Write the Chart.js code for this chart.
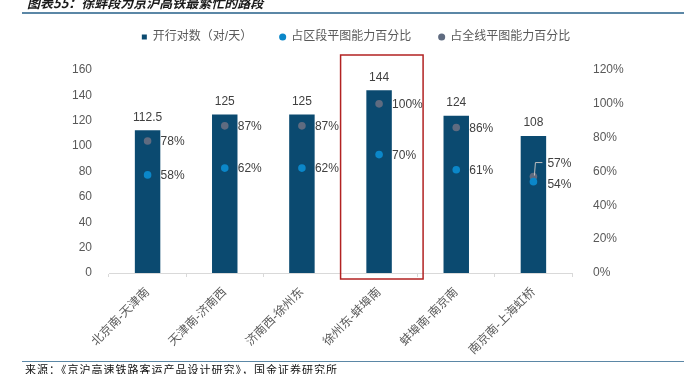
<!DOCTYPE html>
<html>
<head>
<meta charset="utf-8">
<script src="https://cdn.jsdelivr.net/npm/chart.js@4/dist/chart.umd.min.js"></script>
<style>
  html, body { margin: 0; padding: 0; background: #fff; }
  body   { width: 684px; height: 374px; position: relative; overflow: hidden; }
  #wrap  { position: absolute; left: 0; top: 0; width: 684px; height: 374px; }
  .title { position: absolute; left: 27px; top: -4px; white-space: nowrap;
           font: italic bold 13px/13px "Noto Sans CJK SC", sans-serif; color: #1a1a1a; }
  .rule  { position: absolute; left: 22px; right: 0; background: #5b87a6; }
  .source { position: absolute; left: 25px; white-space: nowrap;
            font: 11px/13px "Noto Sans CJK SC", sans-serif; letter-spacing: 1px; color: #111; }
</style>
</head>
<body>
<div id="wrap"><canvas id="chart" width="684" height="374"></canvas></div>
<div class="title">图表55：徐蚌段为京沪高铁最繁忙的路段</div>
<div class="rule" style="top:12px;height:2px;"></div>
<div class="rule" style="top:361px;height:1px;"></div>
<div class="source" style="top:363px;">来源：《京沪高速铁路客运产品设计研究》，国金证券研究所</div>
<script>
// data
const categories = ['北京南-天津南', '天津南-济南西', '济南西-徐州东', '徐州东-蚌埠南', '蚌埠南-南京南', '南京南-上海虹桥'];
const trainPairs = [112.5, 125, 125, 144, 124, 108];   // 开行对数（对/天）
const sectionPct = [58, 62, 62, 70, 61, 54];           // 占区段平图能力百分比
const linePct    = [78, 87, 87, 100, 86, 57];          // 占全线平图能力百分比
const leftTicks  = [0, 20, 40, 60, 80, 100, 120, 140, 160];
const rightTicks = [0, 20, 40, 60, 80, 100, 120];

const FONT  = '"Liberation Sans", "Noto Sans CJK SC", sans-serif';
const GREY  = '#595959';
const NAVY  = '#0b4a70';
const BLUE  = '#0b87c9';
const SLATE = '#5f6b80';

/** Value labels above bars and beside the dots. */
const valueLabels = {
  id: 'valueLabels',
  afterDatasetsDraw(chart) {
    const ctx = chart.ctx;
    ctx.save();
    ctx.font         = '12px ' + FONT;
    ctx.fillStyle    = '#404040';
    ctx.textBaseline = 'middle';
    ctx.textAlign    = 'center';
    chart.getDatasetMeta(0).data.forEach((bar, i) => {
      ctx.fillText(String(trainPairs[i]), bar.x, bar.y - 13);
    });
    ctx.textAlign = 'left';
    const last = categories.length - 1;
    [1, 2].forEach(di => {
      const vals = chart.data.datasets[di].data;
      chart.getDatasetMeta(di).data.forEach((pt, i) => {
        if (i === last && di === 2) {
          // the two last dots overlap, so this one gets a leader line
          ctx.strokeStyle = '#bfbfbf';
          ctx.lineWidth   = 1;
          ctx.beginPath();
          ctx.moveTo(pt.x + 1, pt.y - 1);
          ctx.lineTo(pt.x + 2, pt.y - 14);
          ctx.lineTo(pt.x + 9, pt.y - 14);
          ctx.stroke();
          ctx.fillText(vals[i] + '%', pt.x + 14, pt.y - 13);
        } else if (i === last) {
          ctx.fillText(vals[i] + '%', pt.x + 14, pt.y + 3);
        } else {
          ctx.fillText(vals[i] + '%', pt.x + 13, pt.y + 1);
        }
      });
    });
    ctx.restore();
  }
};

/** Red frame round the busiest section. */
const highlight = {
  id: 'highlight',
  afterDraw(chart) {
    const ctx  = chart.ctx;
    const area = chart.chartArea;
    const x    = chart.scales.x.getPixelForValue(3);
    ctx.save();
    ctx.strokeStyle = '#b22222';
    ctx.lineWidth   = 1.5;
    ctx.strokeRect(x - 38.5, area.top - 15, 82.5, area.bottom - area.top + 21);
    ctx.restore();
  }
};

/** Fixed legend height so the plot starts where it does in the reference. */
const legendHeight = {
  id: 'legendHeight',
  beforeInit(chart) {
    const fit = chart.legend.fit;
    chart.legend.fit = function () { fit.call(this); this.height = 67; };
  }
};

new Chart(document.getElementById('chart'), {
  type: 'bar',
  data: {
    labels: categories,
    datasets: [
      {
        label:              '开行对数（对/天）',
        data:               trainPairs,
        backgroundColor:    NAVY,
        borderWidth:        0,
        pointStyle:         'rect',
        barPercentage:      0.33,
        categoryPercentage: 1,
        yAxisID:            'y',
        order:              3,
      },
      {
        type:             'line',
        label:            '占区段平图能力百分比',
        data:             sectionPct,
        showLine:         false,
        pointStyle:       'circle',
        pointRadius:      3.8,
        backgroundColor:  BLUE,
        borderColor:      BLUE,
        pointBorderWidth: 0,
        yAxisID:          'y1',
        order:            1,
      },
      {
        type:             'line',
        label:            '占全线平图能力百分比',
        data:             linePct,
        showLine:         false,
        pointStyle:       'circle',
        pointRadius:      3.8,
        backgroundColor:  SLATE,
        borderColor:      SLATE,
        pointBorderWidth: 0,
        yAxisID:          'y1',
        order:            2,
      },
    ],
  },
  options: {
    responsive: false,
    animation:  false,
    layout: { padding: { top: 3, left: 28, right: 0, bottom: 0 } },
    plugins: {
      legend: {
        position: 'top',
        labels: {
          usePointStyle: true,
          boxWidth:      5,
          boxHeight:     5,
          padding:       28,
          color:         GREY,
          font:          { size: 12, family: FONT },
          sort:          (a, b) => a.datasetIndex - b.datasetIndex,
        },
      },
      tooltip: { enabled: false },
    },
    scales: {
      x: {
        grid:   { offset: true, drawOnChartArea: false, tickLength: 4, color: '#d9d9d9' },
        border: { color: '#d9d9d9' },
        ticks:  { autoSkip: false, minRotation: 45, maxRotation: 45, padding: 8,
                  color: GREY, font: { size: 12, family: FONT } },
        afterFit(s) { s.height = 101; },
      },
      y: {
        position: 'left',
        min:      leftTicks[0],
        max:      leftTicks[leftTicks.length - 1],
        grid:     { display: false },
        border:   { display: false },
        ticks:    { stepSize: leftTicks[1] - leftTicks[0], padding: 9,
                    color: GREY, font: { size: 12, family: FONT } },
        afterFit(s) { s.width = 81; },
      },
      y1: {
        position: 'right',
        min:      rightTicks[0],
        max:      rightTicks[rightTicks.length - 1],
        grid:     { display: false },
        border:   { display: false },
        ticks:    { stepSize: rightTicks[1] - rightTicks[0], padding: 13,
                    color: GREY, font: { size: 12, family: FONT },
                    callback: v => v + '%' },
        afterFit(s) { s.width = 112; },
      },
    },
  },
  plugins: [legendHeight, valueLabels, highlight],
});
</script>
</body>
</html>
